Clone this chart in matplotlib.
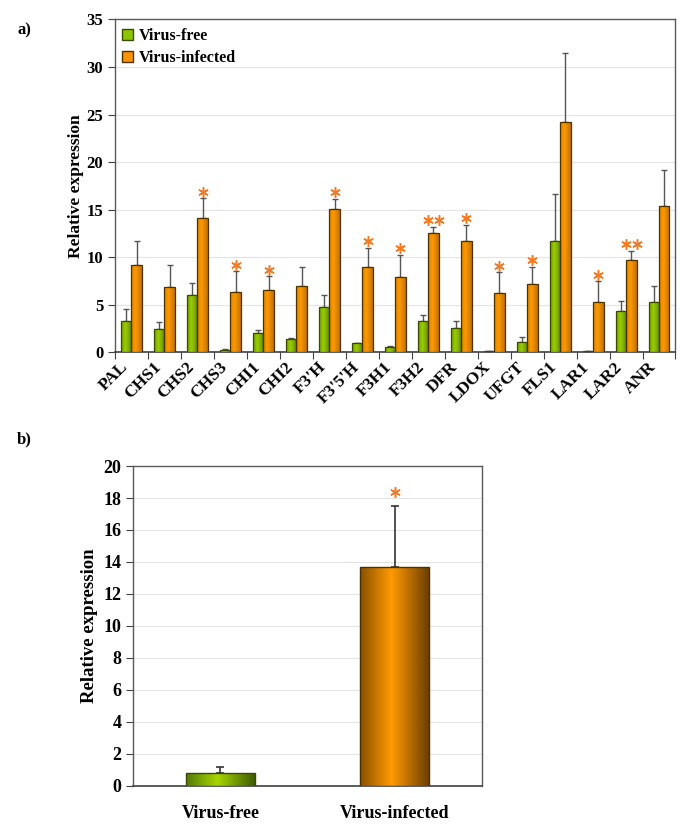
import numpy as np
import matplotlib
matplotlib.use("Agg")
import matplotlib.pyplot as plt
from matplotlib.colors import LinearSegmentedColormap
from matplotlib.patches import Patch

plt.rcParams['font.family'] = ['Liberation Serif', 'DejaVu Serif']
plt.rcParams['font.weight'] = 'bold'
plt.rcParams['axes.labelweight'] = 'bold'

# ---------------- data (panel a) ----------------
genes = ['PAL', 'CHS1', 'CHS2', 'CHS3', 'CHI1', 'CHI2', "F3'H", "F3'5'H", 'F3H1',
         'F3H2', 'DFR', 'LDOX', 'UFGT', 'FLS1', 'LAR1', 'LAR2', 'ANR']
free_mean = [3.28, 2.44, 5.98, 0.24, 1.99, 1.40, 4.79, 0.94, 0.52,
             3.28, 2.58, 0.14, 1.11, 11.75, 0.10, 4.37, 5.25]
free_sd = [1.32, 0.76, 1.36, 0.14, 0.38, 0.13, 1.21, 0.05, 0.18,
           0.60, 0.67, 0.03, 0.49, 4.89, 0.03, 1.05, 1.68]
inf_mean = [9.13, 6.85, 14.16, 6.36, 6.57, 6.92, 15.10, 8.98, 7.90,
            12.52, 11.75, 6.19, 7.20, 24.20, 5.25, 9.69, 15.42]
inf_sd = [2.62, 2.35, 2.04, 2.14, 1.43, 2.06, 1.06, 2.00, 2.34,
          0.66, 1.68, 2.21, 1.82, 7.30, 2.20, 1.01, 3.71]
sig_a = ['', '', '*', '*', '*', '', '*', '*', '*', '**', '*', '*', '*', '', '*', '**', '']

# ---------------- data (panel b) ----------------
groups_b = ['Virus-free', 'Virus-infected']
mean_b = [0.78, 13.66]
sd_b = [0.39, 3.84]
sig_b = ['', '*']

series_labels = ['Virus-free', 'Virus-infected']

# ---------------- styles ----------------
green_cmap_a = LinearSegmentedColormap.from_list('ga', [(0, '#6f9a00'), (0.4, '#9ccf00'), (1, '#5f8600')])
orange_cmap_a = LinearSegmentedColormap.from_list('oa', [(0, '#d98200'), (0.4, '#ff9a00'), (1, '#c07000')])
green_cmap_b = LinearSegmentedColormap.from_list('gb', [(0, '#55780a'), (0.45, '#a6d600'), (1, '#3c5800')])
orange_cmap_b = LinearSegmentedColormap.from_list('ob', [(0, '#8a5000'), (0.45, '#ff9a00'), (1, '#6a3c00')])
green_edge = '#3b4a00'
orange_edge = '#4d3200'
star_color = '#f47a22'
err_color = '#555555'


def gradient_fill(ax, bars, cmap):
    grad = np.linspace(0, 1, 256).reshape(1, -1)
    for b in bars:
        x, y = b.get_xy()
        w, h = b.get_width(), b.get_height()
        if h <= 0:
            continue
        im = ax.imshow(grad, extent=[x, x + w, y, y + h], aspect='auto', cmap=cmap,
                       interpolation='bicubic', zorder=b.get_zorder() - 0.01)
        im.set_clip_path(b)
        b.set_facecolor('none')


def style_axes(ax):
    for s in ['top', 'right', 'left']:
        ax.spines[s].set_color('#5a5a5a')
        ax.spines[s].set_linewidth(1.0)
    ax.spines['bottom'].set_color('#404040')
    ax.spines['bottom'].set_linewidth(1.2)
    ax.yaxis.grid(True, color='#e4e4e4', linewidth=0.8)
    ax.set_axisbelow(True)


fig = plt.figure(figsize=(6.85, 8.4), dpi=100)

# ================= panel a =================
ax1 = fig.add_axes([0.1679, 0.5806, 0.9861 - 0.1679, 0.9768 - 0.5806])
n = len(genes)
x = np.arange(n)
w = 0.318
b1 = ax1.bar(x - w / 2, free_mean, w, edgecolor=green_edge, linewidth=0.9, zorder=3, label=series_labels[0])
b2 = ax1.bar(x + w / 2, inf_mean, w, edgecolor=orange_edge, linewidth=0.9, zorder=3, label=series_labels[1])
ax1.errorbar(x - w / 2, free_mean, yerr=[np.zeros(n), free_sd], fmt='none', ecolor=err_color,
             elinewidth=1.0, capsize=2.2, capthick=1.0, zorder=2.5)
ax1.errorbar(x + w / 2, inf_mean, yerr=[np.zeros(n), inf_sd], fmt='none', ecolor=err_color,
             elinewidth=1.0, capsize=2.2, capthick=1.0, zorder=2.5)
gradient_fill(ax1, b1, green_cmap_a)
gradient_fill(ax1, b2, orange_cmap_a)

for i, s in enumerate(sig_a):
    ytop = inf_mean[i] + inf_sd[i] + 0.7
    if s == '*':
        xs = [x[i] + w / 2]
    elif s == '**':
        xs = [x[i] + w / 2 - 0.16, x[i] + w / 2 + 0.16]
    else:
        xs = []
    for xx in xs:
        ax1.plot(xx, ytop, marker=(6, 2, 0), markersize=7.5, mew=1.1, color=star_color, zorder=5)

ax1.set_xlim(-0.5, n - 0.5)
ax1.set_ylim(0, 35)
ax1.set_yticks(np.arange(0, 36, 5))
ax1.set_xticks(np.arange(n + 1) - 0.5)
ax1.set_xticklabels([])
ax1.set_xticks(x, genes, minor=True)
ax1.tick_params(axis='x', which='major', length=5, direction='out', color='#404040')
ax1.tick_params(axis='x', which='minor', length=0, pad=5)
for lab in ax1.get_xticklabels(minor=True):
    lab.set_rotation(45)
    lab.set_ha('right')
    lab.set_va('top')
    lab.set_rotation_mode('default')
    lab.set_fontsize(12.5)
    lab.set_fontweight('bold')
ax1.tick_params(axis='y', length=5, direction='out', labelsize=12, color='#404040')
ax1.set_ylabel('Relative expression', fontsize=12.5, labelpad=2)
style_axes(ax1)
leg = ax1.legend(handles=[Patch(facecolor='#8cc400', edgecolor=green_edge, label=series_labels[0]),
                          Patch(facecolor='#ff9400', edgecolor=orange_edge, label=series_labels[1])],
                 loc='upper left', bbox_to_anchor=(0.0036, 0.988), frameon=False, fontsize=11.5,
                 handlelength=0.7, handleheight=0.7, handletextpad=0.35, borderaxespad=0.1,
                 borderpad=0.2, labelspacing=0.38)
fig.text(0.026, 0.964, 'a)', fontsize=12, fontweight='bold', va='center')

# ================= panel b =================
ax2 = fig.add_axes([0.1946, 0.0646, 0.7032 - 0.1946, 0.4452 - 0.0646])
xb = np.arange(len(groups_b))
bb = ax2.bar(xb, mean_b, 0.4, edgecolor=[green_edge, orange_edge], linewidth=1.0, zorder=3)
ax2.errorbar(xb, mean_b, yerr=[np.zeros(len(xb)), sd_b], fmt='none', ecolor='#333333',
             elinewidth=1.2, capsize=3, capthick=1.2, zorder=2.5)
gradient_fill(ax2, [bb[0]], green_cmap_b)
gradient_fill(ax2, [bb[1]], orange_cmap_b)
for i, s in enumerate(sig_b):
    if s:
        ax2.plot(xb[i], mean_b[i] + sd_b[i] + 0.9, marker=(6, 2, 0), markersize=7.5, mew=1.1,
                 color=star_color, zorder=5)
ax2.set_xlim(-0.5, len(xb) - 0.5)
ax2.set_ylim(0, 20)
ax2.set_yticks(np.arange(0, 21, 2))
ax2.set_xticks(xb, groups_b)
ax2.tick_params(axis='x', length=0, pad=14, labelsize=13)
ax2.tick_params(axis='y', length=5, direction='out', labelsize=13, color='#404040')
ax2.set_ylabel('Relative expression', fontsize=13.5, labelpad=4)
style_axes(ax2)
fig.text(0.024, 0.477, 'b)', fontsize=12, fontweight='bold', va='center')

fig.savefig('out.png', dpi=100)
